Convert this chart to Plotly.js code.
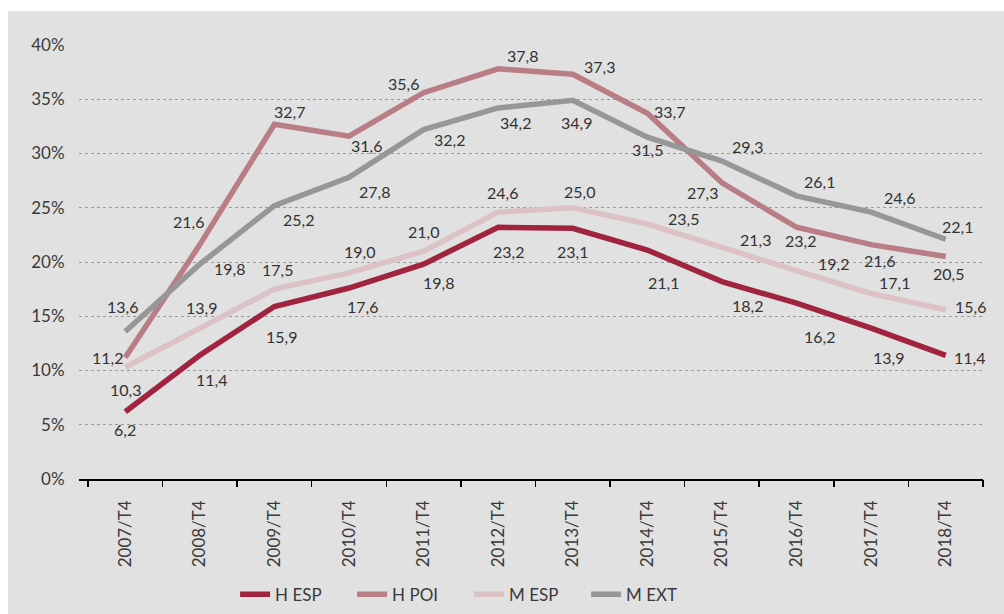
<!DOCTYPE html>
<html>
<head>
<meta charset="utf-8">
<script src="https://cdn.plot.ly/plotly-3.0.1.min.js"></script>
<style>
  html, body { margin: 0; padding: 0; background: #ffffff; width: 1004px; height: 614px; overflow: hidden; }
  #chart { position: absolute; left: 8px; top: 11px; width: 996px; height: 603px; }
</style>
</head>
<body>
<div id="chart"></div>
<script>
// ---- data ----
const categories = ["2007/T4","2008/T4","2009/T4","2010/T4","2011/T4","2012/T4","2013/T4","2014/T4","2015/T4","2016/T4","2017/T4","2018/T4"];
const seriesNames = ["H ESP", "H POI", "M ESP", "M EXT"];
const hEsp = [6.2, 11.4, 15.9, 17.6, 19.8, 23.2, 23.1, 21.1, 18.2, 16.2, 13.9, 11.4];
const hPoi = [11.2, 21.6, 32.7, 31.6, 35.6, 37.8, 37.3, 33.7, 27.3, 23.2, 21.6, 20.5];
const mEsp = [10.3, 13.9, 17.5, 19.0, 21.0, 24.6, 25.0, 23.5, 21.3, 19.2, 17.1, 15.6];
const mExt = [13.6, 19.8, 25.2, 27.8, 32.2, 34.2, 34.9, 31.5, 29.3, 26.1, 24.6, 22.1];
const yTickVals = [0, 5, 10, 15, 20, 25, 30, 35, 40];

// ---- styles ----
const colors = ["#a0243f", "#b97d86", "#dcc2c5", "#979797"];
// label offsets in pixels [dx, dy] (dy positive = down)
const labelOffsets = [
  [[0,18],[12,24],[7,30],[13,18],[15,18],[10,24],[0,23],[16,32],[26,24],[23,33],[17,29],[24,2]],
  [[-18,0],[-11,-23],[15,-13],[17,9],[-20,-9],[24,-13],[27,-8],[22,-2],[-19,10],[4,13],[8,16],[3,17]],
  [[0,22],[2,-21],[3,-20],[10,-21],[0,-20],[4,-20],[7,-16],[36,-6],[34,-8],[37,-7],[23,-11],[25,-3]],
  [[-3,-25],[30,4],[24,14],[25,14],[26,10],[17,15],[4,22],[0,12],[26,-15],[23,-14],[28,-15],[12,-13]]
];
const fontFamily = "Lato, 'Open Sans', sans-serif";

const allSeries = [hEsp, hPoi, mEsp, mExt];
const xIdx = categories.map((c, i) => i);

const traces = allSeries.map((vals, s) => ({
  type: "scatter",
  mode: "lines",
  name: seriesNames[s],
  x: xIdx,
  y: vals,
  line: { color: colors[s], width: 5.5, shape: "linear" },
  hoverinfo: "skip"
}));

const fmt = v => v.toFixed(1).replace(".", ",");
const annotations = [];
allSeries.forEach((vals, s) => {
  vals.forEach((v, i) => {
    annotations.push({
      x: i, y: v, xref: "x", yref: "y",
      text: fmt(v), showarrow: false,
      xanchor: "center", yanchor: "middle",
      xshift: labelOffsets[s][i][0], yshift: -labelOffsets[s][i][1],
      font: { family: fontFamily, size: 16, color: "#333333" }
    });
  });
});

const layout = {
  width: 996, height: 603,
  margin: { l: 71, r: 21, t: 34, b: 135, autoexpand: false },
  paper_bgcolor: "#e1e1e1",
  plot_bgcolor: "#e1e1e1",
  font: { family: fontFamily, color: "#3a3a3a" },
  showlegend: true,
  legend: {
    orientation: "h",
    xref: "container", yref: "container",
    x: 0.228, xanchor: "left",
    y: 0.032, yanchor: "middle",
    entrywidth: 72, entrywidthmode: "pixels",
    font: { family: fontFamily, size: 17, color: "#3a3a3a" },
    bgcolor: "rgba(0,0,0,0)",
    traceorder: "normal"
  },
  xaxis: {
    type: "linear",
    range: [-0.62, 11.5],
    tickmode: "array",
    tickvals: xIdx,
    ticktext: categories,
    tickangle: -90,
    showgrid: false,
    zeroline: false,
    showline: true, linecolor: "#000000", linewidth: 1.5,
    ticks: "",
    tickfont: { family: fontFamily, size: 17, color: "#3a3a3a" },
    ticklabelstandoff: 13,
    automargin: false,
    fixedrange: true
  },
  xaxis2: {
    overlaying: "x", matches: "x", range: [-0.62, 11.5],
    tickmode: "array", tickvals: categories.concat(["end"]).map((c, i) => i - 0.5),
    ticks: "outside", ticklen: 7, tickwidth: 1.5, tickcolor: "#000000",
    showticklabels: false, showgrid: false, zeroline: false, showline: false,
    side: "bottom", anchor: "y", automargin: false
  },
  yaxis: {
    range: [0, 40],
    tickmode: "array",
    tickvals: yTickVals,
    ticktext: yTickVals.map(v => v + "%"),
    showgrid: true, gridcolor: "#9a9a9a", gridwidth: 1, griddash: "dot",
    zeroline: false, showline: false,
    ticks: "outside", ticklen: 10, tickcolor: "rgba(0,0,0,0)",
    tickfont: { family: fontFamily, size: 17, color: "#3a3a3a" },
    automargin: false,
    fixedrange: true
  },
  annotations: annotations
};

// invisible trace carrying the category-boundary ticks on xaxis2
traces.push({ type: "scatter", x: [0], y: [0], xaxis: "x2", mode: "none", showlegend: false, hoverinfo: "skip" });

Plotly.newPlot("chart", traces, layout, { staticPlot: true, displayModeBar: false });
</script>
</body>
</html>
